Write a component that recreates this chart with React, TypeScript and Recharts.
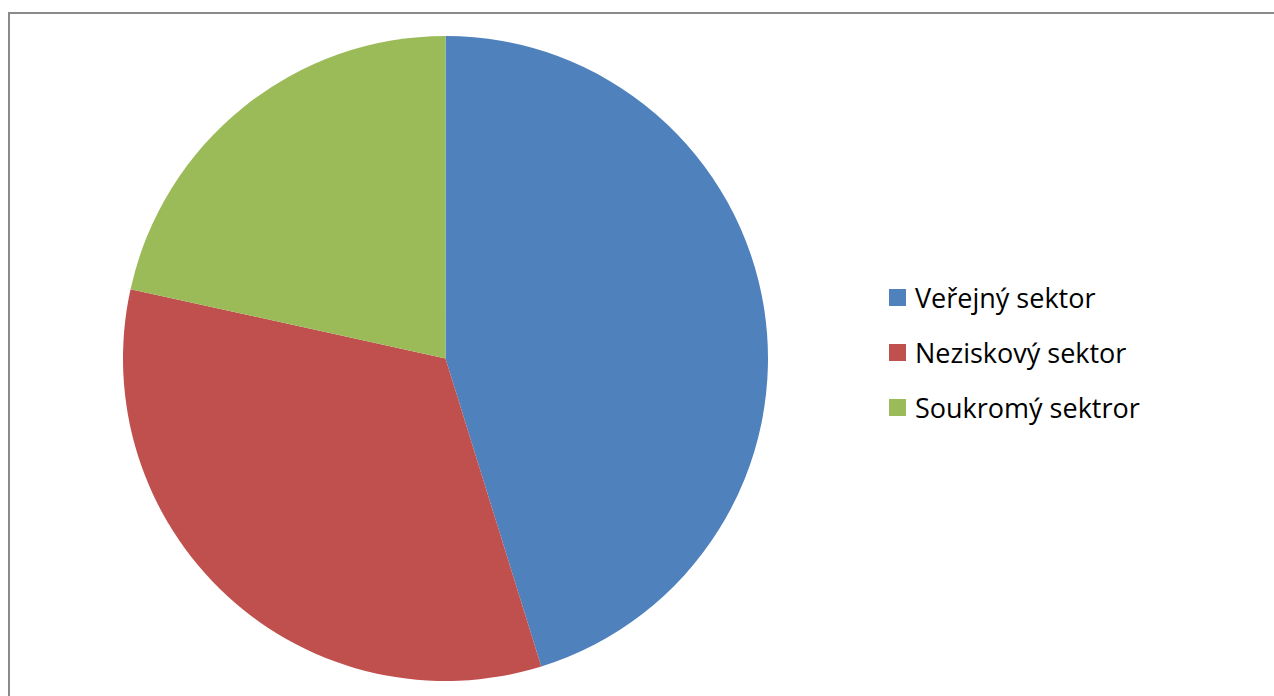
import React from 'react';
import { PieChart, Pie, Cell, Legend } from 'recharts';

const categories = ['Veřejný sektor', 'Neziskový sektor', 'Soukromý sektror'];
const values = [45.2, 33.25, 21.55];
const colors = ['#4F81BD', '#C0504D', '#9BBB59'];

const data = categories.map((name, i) => ({ name, value: values[i] }));

const renderLegend = () => (
  <div style={{ fontFamily: '"Open Sans", sans-serif', fontSize: 27, color: '#000' }}>
    {categories.map((c, i) => (
      <div key={c} style={{ display: 'flex', alignItems: 'center', height: 55 }}>
        <span style={{ display: 'inline-block', width: 17, height: 17, background: colors[i], marginRight: 9 }} />
        <span style={{ lineHeight: '55px' }}>{c}</span>
      </div>
    ))}
  </div>
);

export default function App() {
  return (
    <div style={{ position: 'absolute', left: 0, top: 0, width: 1274, height: 696, background: '#fff', overflow: 'hidden' }}>
      <div style={{ position: 'absolute', left: 8, top: 12, width: 1300, height: 720, borderTop: '2px solid #8a8a8a', borderLeft: '2px solid #8a8a8a' }} />
      <PieChart width={1274} height={696} margin={{ top: 0, right: 0, bottom: 0, left: 0 }} style={{ position: 'absolute', left: 0, top: 0 }}>
        <Pie
          data={data}
          dataKey="value"
          nameKey="name"
          cx={445.5}
          cy={358.5}
          outerRadius={322.5}
          innerRadius={0}
          startAngle={90}
          endAngle={-270}
          stroke="none"
          isAnimationActive={false}
          label={false}
          labelLine={false}
        >
          {data.map((d, i) => (
            <Cell key={d.name} fill={colors[i]} />
          ))}
        </Pie>
        <Legend
          content={renderLegend}
          layout="vertical"
          wrapperStyle={{ position: 'absolute', left: 889, top: 270, width: 370 }}
        />
      </PieChart>
    </div>
  );
}
